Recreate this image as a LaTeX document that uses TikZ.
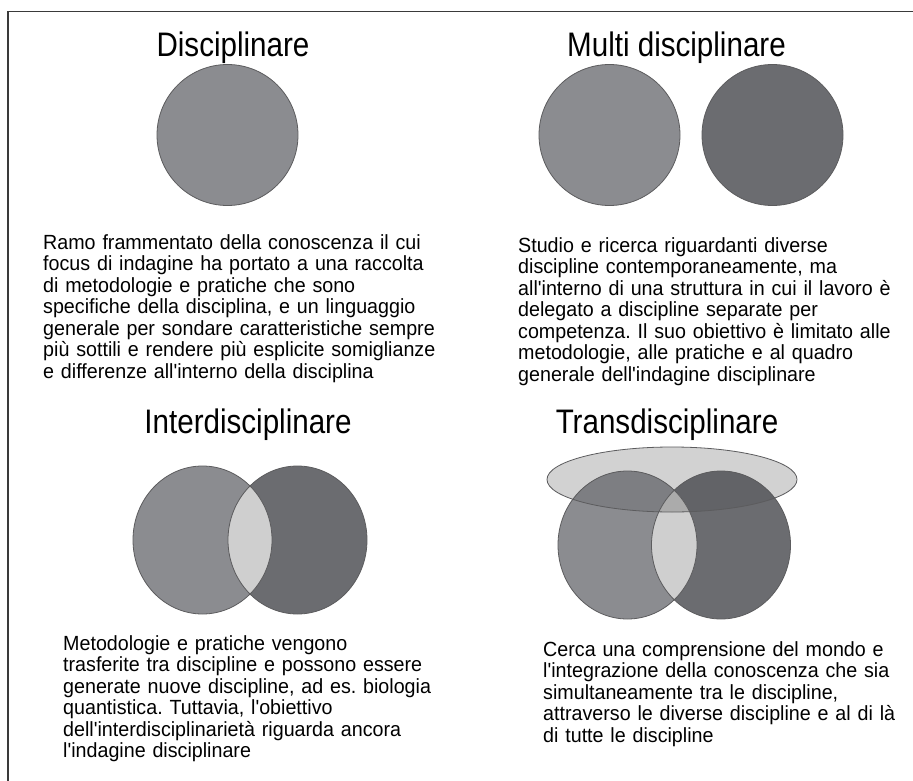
\documentclass[tikz,border=0pt]{standalone}
\usepackage{fontspec}
\setmainfont{Liberation Sans}
\newfontfamily\headfont[FakeStretch=0.87]{Liberation Sans}
\newfontfamily\parafont[FakeStretch=0.96]{Liberation Sans}
\frenchspacing

\definecolor{framegrey}{HTML}{3A3A3A}
\definecolor{edgegrey}{HTML}{5C5C5E}
\definecolor{discA}{HTML}{8B8C90}
\definecolor{discB}{HTML}{6B6C70}
\definecolor{lensgrey}{HTML}{CFCFCF}
\definecolor{halogrey}{HTML}{D2D2D2}
\definecolor{discAdim}{HTML}{7D7E82}
\definecolor{discBdim}{HTML}{626367}
\definecolor{lensdim}{HTML}{ABABAB}

\begin{document}
\begin{tikzpicture}[x=1pt,y=-1pt,
  heading/.style={font=\headfont\fontsize{34}{40}\selectfont, anchor=base, inner sep=0pt},
  para/.style={font=\parafont\fontsize{20.5}{21.5}\selectfont, anchor=base west,
    inner sep=0pt, align=left, text width=440pt},
  rim/.style={draw=edgegrey, line width=0.8pt},
  % shapes of the two lower diagrams
  interL/.style={insert path={(202.5,540) ellipse [x radius=69.5, y radius=74]}},
  interR/.style={insert path={(297.5,540) ellipse [x radius=69.5, y radius=74]}},
  transE/.style={insert path={(672,479.5) ellipse [x radius=125, y radius=32.5]}},
  transL/.style={insert path={(627.5,545) ellipse [x radius=69.5, y radius=74]}},
  transR/.style={insert path={(721,545) ellipse [x radius=69.5, y radius=74]}}]

\useasboundingbox (0,0) rectangle (913,781);
\fill[white] (0,0) rectangle (913,781);
\draw[framegrey, line width=1.4pt] (8,781) -- (8,11.5) -- (913,11.5);

% ---------- Disciplinare ----------
\node[heading] (tDisc) at (233,57) {Disciplinare};
\filldraw[fill=discA, rim] (227.5,135) circle [radius=70.5];
\node[para] (pDisc) at (43,249.3) {Ramo frammentato della conoscenza il cui\\
focus di indagine ha portato a una raccolta\\
di metodologie e pratiche che sono\\
specifiche della disciplina, e un linguaggio\\
generale per sondare caratteristiche sempre\\
più sottili e rendere più esplicite somiglianze\\
e differenze all'interno della disciplina};

% ---------- Multi disciplinare ----------
\node[heading] (tMulti) at (676.5,57) {Multi disciplinare};
\filldraw[fill=discA, rim] (609.5,135) circle [radius=70.5];
\filldraw[fill=discB, rim] (772.5,135) circle [radius=70.5];
\node[para] (pMulti) at (518,252) {Studio e ricerca riguardanti diverse\\
discipline contemporaneamente, ma\\
all'interno di una struttura in cui il lavoro è\\
delegato a discipline separate per\\
competenza. Il suo obiettivo è limitato alle\\
metodologie, alle pratiche e al quadro\\
generale dell'indagine disciplinare};

% ---------- Interdisciplinare ----------
\node[heading] (tInter) at (248,433) {Interdisciplinare};
\fill[discA, interL];
\fill[discB, interR];
\begin{scope}
  \clip[interL];
  \fill[lensgrey, interR];
\end{scope}
\draw[rim, interL];
\draw[rim, interR];
\node[para] (pInter) at (63,650) {Metodologie e pratiche vengono\\
trasferite tra discipline e possono essere\\
generate nuove discipline, ad es. biologia\\
quantistica. Tuttavia, l'obiettivo\\
dell'interdisciplinarietà riguarda ancora\\
l'indagine disciplinare};

% ---------- Transdisciplinare ----------
\node[heading] (tTrans) at (667,433) {Transdisciplinare};
\fill[halogrey, transE];
\fill[discA, transL];
\begin{scope}
  \clip[transE];
  \fill[discAdim, transL];
\end{scope}
\fill[discB, transR];
\begin{scope}
  \clip[transE];
  \fill[discBdim, transR];
\end{scope}
\begin{scope}
  \clip[transL];
  \fill[lensgrey, transR];
  \clip[transE];
  \fill[lensdim, transR];
\end{scope}
\draw[rim, transE];
\draw[rim, transL];
\draw[rim, transR];
\node[para] (pTrans) at (543,656) {Cerca una comprensione del mondo e\\
l'integrazione della conoscenza che sia\\
simultaneamente tra le discipline,\\
attraverso le diverse discipline e al di là\\
di tutte le discipline};

\end{tikzpicture}
\end{document}
